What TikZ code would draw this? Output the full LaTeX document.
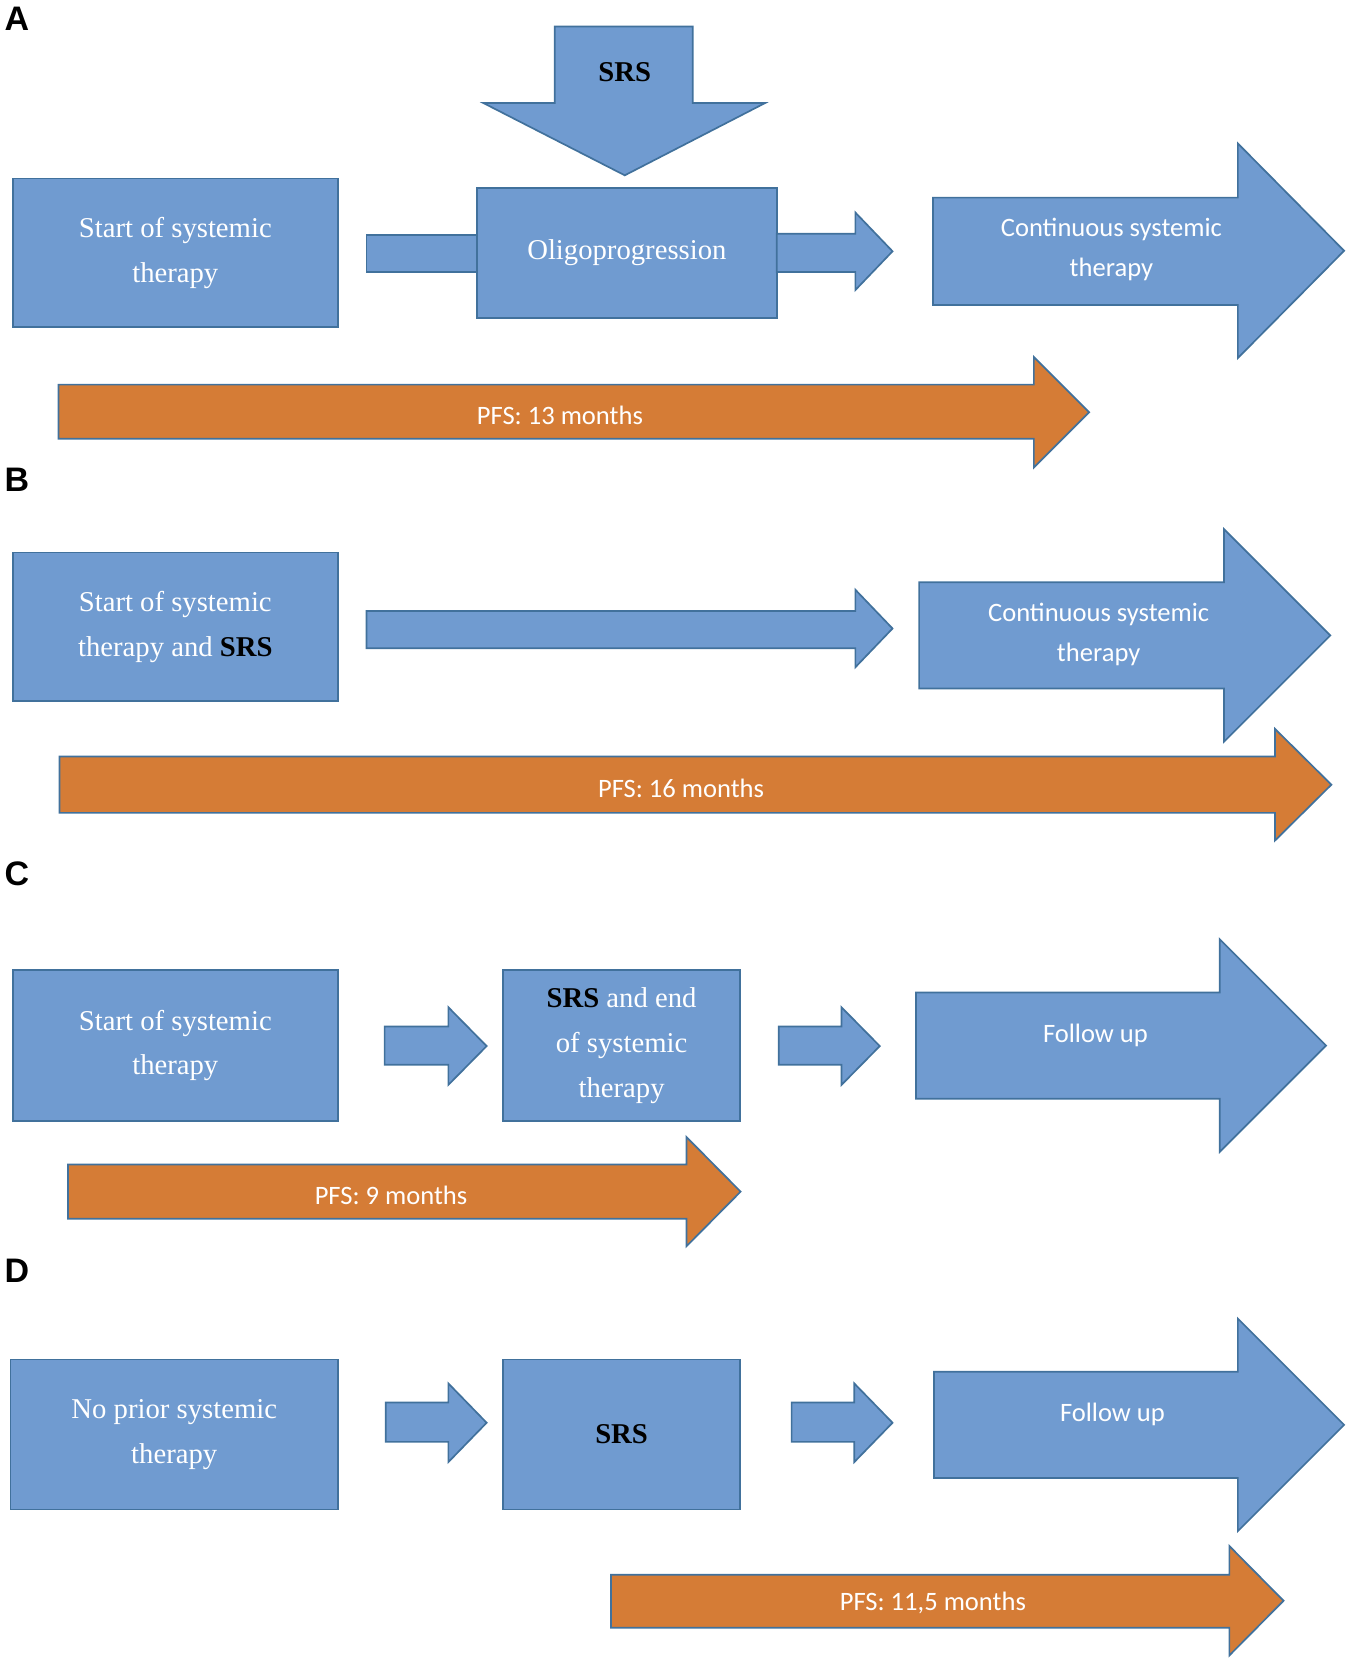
\documentclass[tikz,border=0pt]{standalone}
\usepackage{fontspec}
\setmainfont{Liberation Serif}
\newfontfamily\calib{Carlito}
\newfontfamily\arialf{Liberation Sans}
\usetikzlibrary{positioning}
\definecolor{boxblue}{RGB}{112,155,208}
\definecolor{edgeblue}{RGB}{65,113,156}
\definecolor{pfsorange}{RGB}{213,124,54}

% right pointing block arrow: shaft x0..x1, tip x2, shaft y yt..yb, head y ht..hb
\newcommand{\blockarr}[8][boxblue]{%
  \draw[arrowshape,fill=#1] (#2,#5) -- (#3,#5) -- (#3,#7) -- (#4,{(#7+#8)/2})
    -- (#3,#8) -- (#3,#6) -- (#2,#6) -- cycle;}

\begin{document}
\begin{tikzpicture}[x=1pt,y=-1pt,
    arrowshape/.style={draw=edgeblue,line width=1.6pt,line join=miter},
    stepbox/.style={draw=edgeblue,line width=1.6pt,fill=boxblue,text=white,
      font=\fontsize{27}{42}\selectfont,align=center,inner sep=0pt},
    arrtext/.style={text=white,font=\calib\fontsize{25}{38}\selectfont,align=center},
    panel/.style={font=\arialf\bfseries\fontsize{32}{32}\selectfont,anchor=center}]
  \useasboundingbox (0,0) rectangle (1275,1567);

  % ---- A
  \node[panel] (labA) at (16,18) {A};
  \draw[arrowshape,fill=boxblue] (522,25) -- (652,25) -- (652,97) -- (720,97) -- (588,165)
    -- (455,97) -- (522,97) -- cycle;
  \node[font=\bfseries\fontsize{27}{30}\selectfont] (srsA) at (588,68) {SRS};
  \node[stepbox,minimum width=306pt,minimum height=140pt] (startA) at (165,238) {Start of systemic\\therapy};
  \blockarr{345}{460}{460}{221}{256}{221}{256}
  \node[stepbox,minimum width=282pt,minimum height=122pt] (oligo) at (590,238) {Oligoprogression};
  \blockarr{731}{805}{840}{220}{256}{200}{273}
  \blockarr{878}{1165}{1265}{186}{287}{135}{337}
  \node[arrtext] (contA) at (1046,235) {Continuous systemic\\therapy};
  \blockarr[pfsorange]{55}{973}{1025}{362}{413}{336}{440}
  \node[arrtext] (pfsA) at (527,391) {PFS: 13 months};

  % ---- B
  \node[panel] (labB) at (16,452) {B};
  \node[stepbox,minimum width=306pt,minimum height=140pt] (startB) at (165,590)
    {Start of systemic\\therapy and {\color{black}\bfseries SRS}};
  \blockarr{345}{805}{840}{575}{610}{555}{628}
  \blockarr{865}{1152}{1252}{548}{648}{498}{698}
  \node[arrtext] (contB) at (1034,597) {Continuous systemic\\therapy};
  \blockarr[pfsorange]{56}{1200}{1253}{712}{765}{686}{791}
  \node[arrtext] (pfsB) at (641,742) {PFS: 16 months};

  % ---- C
  \node[panel] (labC) at (16,822) {C};
  \node[stepbox,minimum width=306pt,minimum height=142pt] (startC) at (165,984) {Start of systemic\\therapy};
  \blockarr{362}{422}{458}{966}{1002}{948}{1021}
  \node[stepbox,minimum width=223pt,minimum height=142pt] (srsC) at (585,984)
    {{\color{black}\bfseries SRS} and end\\of systemic\\therapy};
  \blockarr{733}{792}{828}{966}{1002}{948}{1021}
  \blockarr{862}{1148}{1248}{934}{1034}{884}{1084}
  \node[arrtext] (followC) at (1031,974) {Follow up};
  \blockarr[pfsorange]{64}{646}{697}{1096}{1147}{1070}{1173}
  \node[arrtext] (pfsC) at (368,1125) {PFS: 9 months};

  % ---- D
  \node[panel] (labD) at (16,1196) {D};
  \node[stepbox,minimum width=308pt,minimum height=141pt] (noprior) at (164,1350) {No prior systemic\\therapy};
  \blockarr{363}{422}{458}{1320}{1357}{1302}{1376}
  \node[stepbox,minimum width=223pt,minimum height=141pt,text=black,font=\bfseries\fontsize{27}{30}\selectfont]
    (srsD) at (585,1350) {SRS};
  \blockarr{745}{804}{840}{1320}{1357}{1302}{1376}
  \blockarr{879}{1165}{1265}{1291}{1391}{1241}{1441}
  \node[arrtext] (followD) at (1047,1331) {Follow up};
  \blockarr[pfsorange]{575}{1157}{1208}{1482}{1532}{1455}{1558}
  \node[arrtext] (pfsD) at (878,1509) {PFS: 11,5 months};
\end{tikzpicture}
\end{document}
